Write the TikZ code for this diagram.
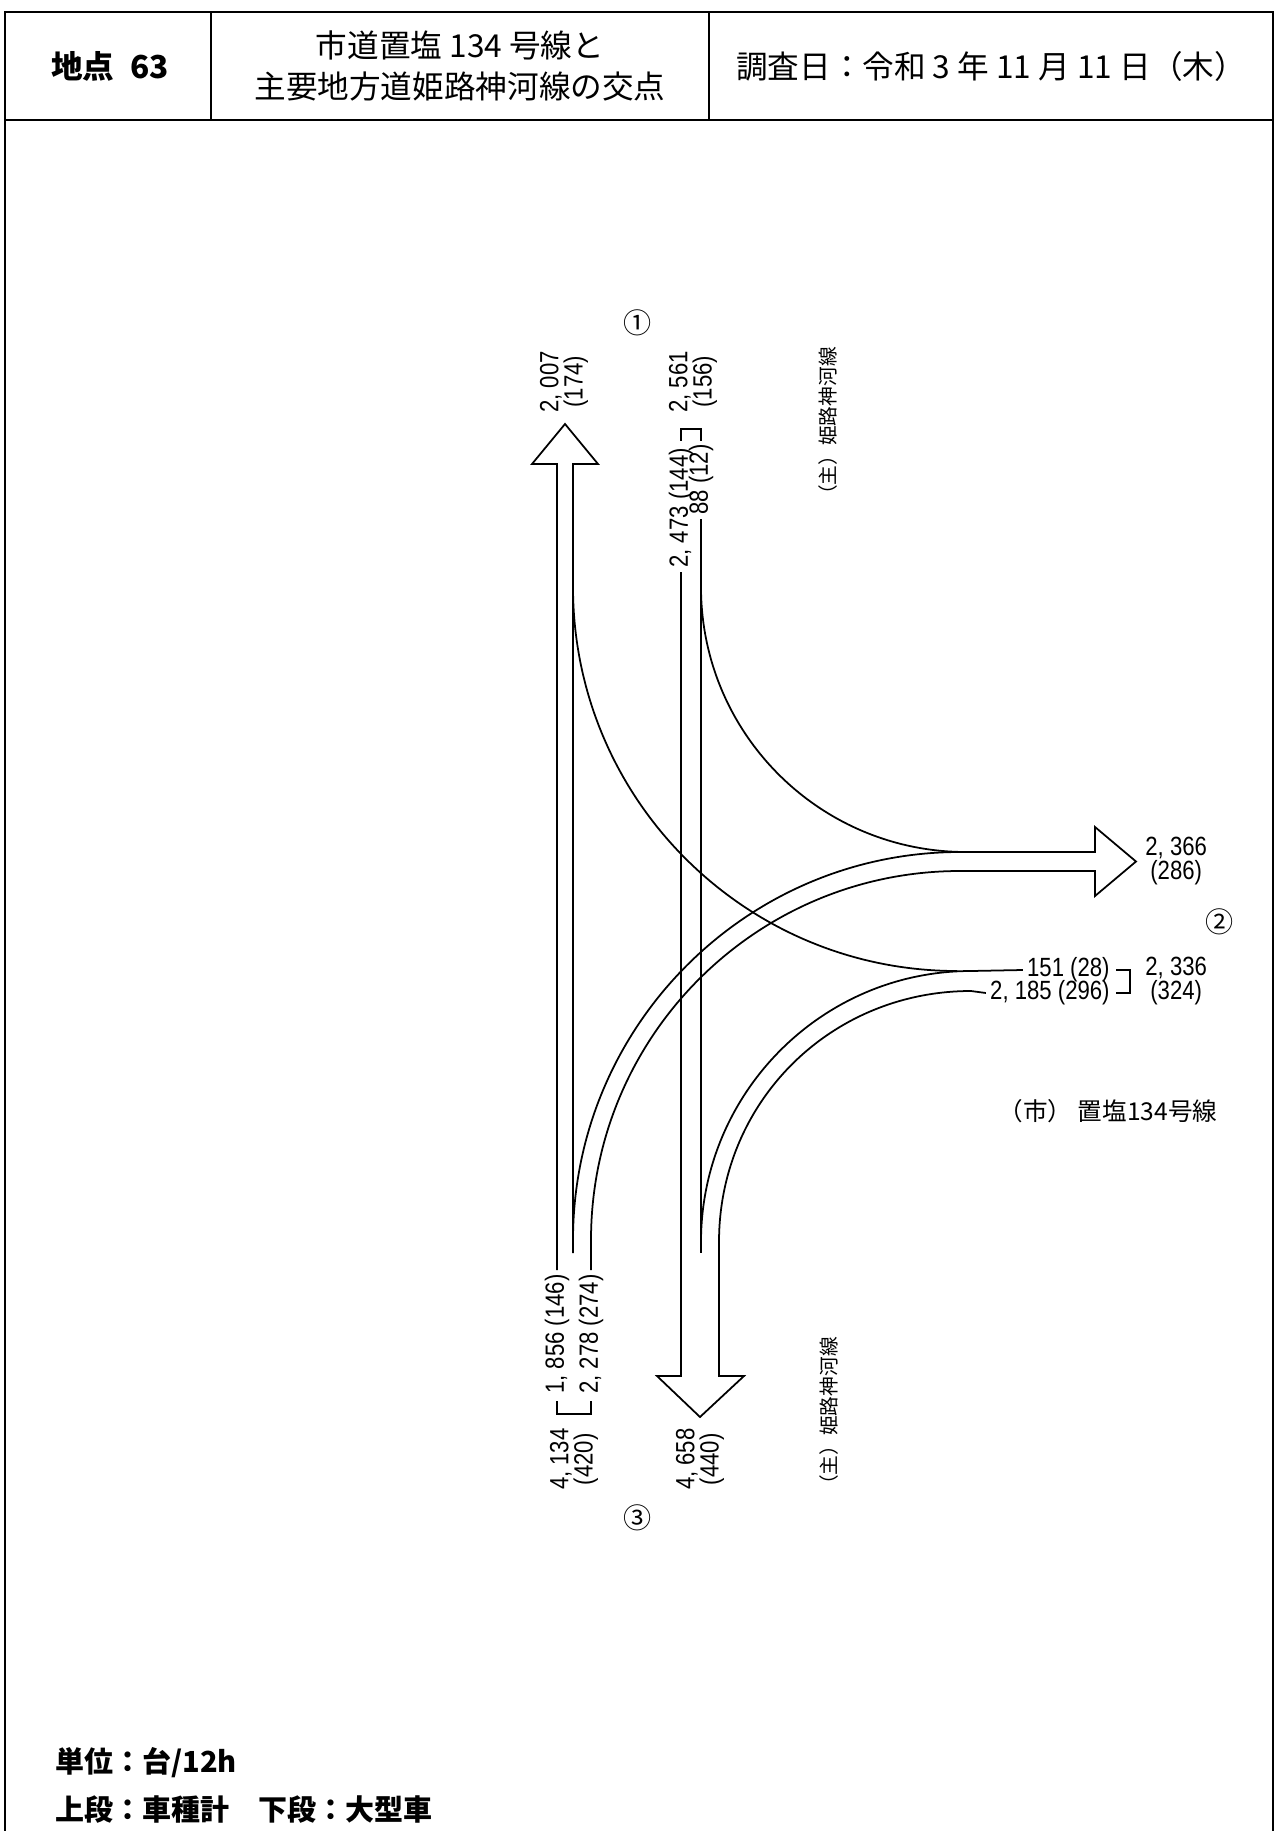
\documentclass[tikz,border=0pt]{standalone}
\usepackage{fontspec}
\setmainfont{Noto Sans CJK JP}
\newfontfamily\numfont{Liberation Sans}[FakeStretch=0.84]
\usepackage{tikz}
\usetikzlibrary{calc}

\begin{document}
\begin{tikzpicture}[
  x=0.02cm, y=-0.02cm,
  frame/.style={line width=1.3pt},
  flow/.style={line width=1pt, line join=miter},
  head/.style={font=\fontsize{18}{23.3}\selectfont, align=center, inner sep=0pt},
  lbl/.style={font=\numfont\fontsize{15}{13.8}\selectfont, inner sep=0pt, outer sep=2.5pt, align=center},
  road/.style={font=\fontsize{11.2}{13}\selectfont, inner sep=0pt},
  pt/.style={font=\fontsize{16}{16}\selectfont, inner sep=0pt},
  note/.style={font=\fontsize{16.5}{20}\selectfont\bfseries, inner sep=0pt, anchor=west}
]
\useasboundingbox (0,0) rectangle (1276,1831);

\draw[frame] (5,1831) -- (5,12) -- (1273,12) -- (1273,1831);
\draw[frame] (5,120) -- (1273,120);
\draw[frame] (211,12) -- (211,120);
\draw[frame] (709,12) -- (709,120);

\node[head, font=\fontsize{18}{23.3}\selectfont\bfseries] (site) at (110,66) {地点\enspace 63};
\node[head] (title) at (460,66) {市道置塩 134 号線と\\主要地方道姫路神河線の交点};
\node[head] (date) at (991,66) {調査日：令和 3 年 11 月 11 日（木）};

\node[pt] (p1) at (638,323) {①};
\node[pt] (p2) at (1220,922) {②};
\node[pt] (p3) at (638,1518) {③};

\node[road, rotate=90] (rdn) at (828,426) {（主）姫路神河線};
\node[road, rotate=90] (rds) at (829,1416) {（主）姫路神河線};
\node[road, font=\fontsize{14}{15}\selectfont] (rde) at (1108,1111) {（市） 置塩134号線};

\node[lbl, rotate=90, anchor=west] (n2007) at (564,417) {2, 007\\(174)};
\node[lbl, rotate=90, anchor=west] (n2561) at (693,417) {2, 561\\(156)};
\node[lbl, rotate=90, anchor=west] (n2473) at (681,572) {2, 473 (144)};
\node[lbl, rotate=90, anchor=west] (n88) at (701,519) {88 (12)};
\draw[flow] ($(n2473.east)+(0,-3)$) -- ++(0,-12) -- ++(20,0) -- ++(0,12);

\node[lbl, rotate=90, anchor=east] (s1856) at (557,1270) {1, 856 (146)};
\node[lbl, rotate=90, anchor=east] (s2278) at (591,1270) {2, 278 (274)};
\draw[flow] ($(s1856.west)+(0,3)$) -- ++(0,13) -- ++(34,0) -- ++(0,-13);
\node[lbl, rotate=90, anchor=east] (s4134) at (574,1424) {4, 134\\(420)};
\node[lbl, rotate=90, anchor=east] (s4658) at (700,1424) {4, 658\\(440)};

\node[lbl, anchor=west] (e2366) at (1141,861) {2, 366\\(286)};
\node[lbl, anchor=east] (e151) at (1114,970) {151 (28)};
\node[lbl, anchor=east] (e2185) at (1114,993) {2, 185 (296)};
\draw[flow] ($(e151.east)+(2,0)$) -- ++(14,0) -- ++(0,23) -- ++(-14,0);
\node[lbl, anchor=west] (e2336) at (1141,981) {2, 336\\(324)};

\draw[flow] (s1856.east) -- (557,464) -- (532,464) -- (565,424) -- (598,464) -- (573,464) -- (573,1253);
\draw[flow] (n2473.west) -- (681,1376) -- (657,1376) -- (700,1417) -- (744,1376) -- (719,1376) -- (719,1242)
  .. controls (719,1101.7) and (830.7,991) .. (971,991) -- (e2185.west);
\draw[flow] (n88.west) -- (701,1253);
\draw[flow] (701,1242) .. controls (701,1092.9) and (821.9,971) .. (971,971) -- (e151.west);
\draw[flow] (701,587) .. controls (701,733.4) and (819.6,852) .. (966,852);
\draw[flow] (573,587) .. controls (573,799.1) and (744.9,971) .. (957,971);
\draw[flow] (573,1240) .. controls (573,1026.3) and (746.3,852) .. (960,852) -- (1095,852) -- (1095,827) -- (1136,861.5)
  -- (1095,896) -- (1095,871) -- (960,871) .. controls (756.2,871) and (591,1036.2) .. (591,1240) -- (s2278.east);

\node[note] (unit) at (55,1763) {単位：台/12h};
\node[note] (tier) at (55,1810) {上段：車種計　下段：大型車};
\end{tikzpicture}
\end{document}
